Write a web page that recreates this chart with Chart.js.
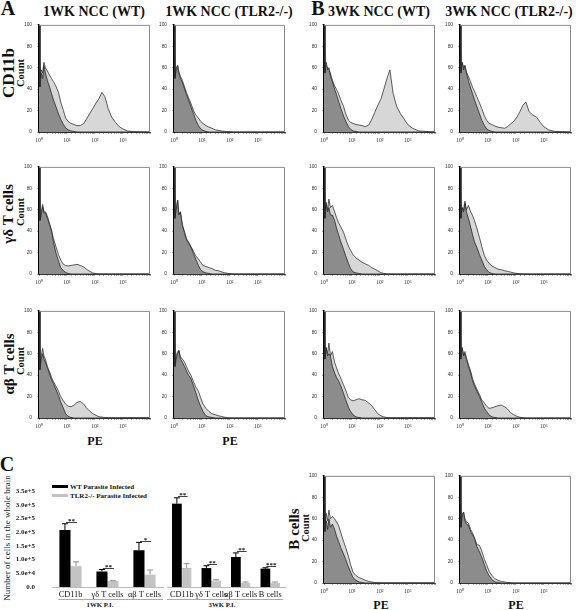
<!DOCTYPE html>
<html><head><meta charset="utf-8">
<script src="https://cdn.jsdelivr.net/npm/chart.js@4/dist/chart.umd.min.js"></script>
<style>
body{margin:0;width:576px;height:610px;background:#fff;position:relative;overflow:hidden;font-family:'Liberation Serif',serif;}
canvas{position:absolute;}
.t{position:absolute;white-space:nowrap;transform:translate(-50%,-50%);font-weight:bold;color:#111;line-height:1;}
.r{transform:translate(-50%,-50%) rotate(-90deg);}
.n{font-weight:normal;}
.sw{position:absolute;}
.gl{position:absolute;height:1px;background:#aaa;}
</style></head><body>
<div class="t" style="left:8px;top:8px;font-size:20px">A</div>
<div class="t" style="left:318px;top:8px;font-size:20px">B</div>
<div class="t" style="left:7px;top:464px;font-size:20px">C</div>
<div class="t" style="left:94px;top:12px;font-size:14px">1WK NCC (WT)</div>
<div class="t" style="left:229px;top:12px;font-size:14px">1WK NCC (TLR2-/-)</div>
<div class="t" style="left:379px;top:12px;font-size:14px">3WK NCC (WT)</div>
<div class="t" style="left:509px;top:12px;font-size:14px">3WK NCC (TLR2-/-)</div>
<div class="t r" style="left:8px;top:73px;font-size:17px">CD11b</div>
<div class="t r" style="left:21px;top:73px;font-size:10.5px">Count</div>
<div class="t r" style="left:8px;top:214px;font-size:15px">γδ T cells</div>
<div class="t r" style="left:21px;top:212px;font-size:10.5px">Count</div>
<div class="t r" style="left:9px;top:364px;font-size:15px">αβ T cells</div>
<div class="t r" style="left:21px;top:361px;font-size:10.5px">Count</div>
<div class="t r" style="left:294px;top:529px;font-size:15px">B cells</div>
<div class="t r" style="left:306px;top:528px;font-size:10.5px">Count</div>
<div class="t" style="left:95px;top:441px;font-size:12px">PE</div>
<div class="t" style="left:230px;top:441px;font-size:12px">PE</div>
<div class="t" style="left:381px;top:605px;font-size:12px">PE</div>
<div class="t" style="left:516px;top:605px;font-size:12px">PE</div>
<div class="t r n" style="left:7px;top:538px;font-size:9px;color:#222">Number of cells in the whole brain</div>
<div class="sw" style="left:52px;top:485px;width:16px;height:3px;background:#000"></div>
<div class="t" style="left:70px;top:487px;font-size:7px;transform:translate(0,-50%)">WT Parasite Infected</div>
<div class="sw" style="left:52px;top:494px;width:16px;height:3px;background:#c3c3c3"></div>
<div class="t" style="left:70px;top:496px;font-size:7px;transform:translate(0,-50%)">TLR2-/- Parasite Infected</div>
<div class="gl" style="left:58px;top:599px;width:105px"></div>
<div class="gl" style="left:167px;top:599px;width:116px"></div>
<div class="t" style="left:100px;top:605px;font-size:6.8px">1WK P.I.</div>
<div class="t" style="left:222px;top:605px;font-size:6.8px">3WK P.I.</div>
<script>
// ---------- Histogram data (PE fluorescence bins, % of max count) ----------
const peBins = [1,1.08,1.2,1.35,1.5,1.7,2,2.4,2.8,3.3, 4,5,6,7.5,9,11,14,18,23,30, 40,50,65,85,110,140,180,230,300,400, 550,750,1000,1500,2500,9000,9400];
const peTickLabels = ['10⁰','10¹','10²','10³'];
const countTicks = [0,20,40,60,80,100];

const cd11b1wWtCtrl = [100,42,55,50,62,55,48,42,36,30, 24,17,12,7,4,2,1,0.5,0,0, 0,0,0,0,0,0,0,0,0,0, 0,0,0,0,0,0,0];
const cd11b1wWtPE   = [100,50,58,55,65,60,57,53,50,47, 43,37,28,20,13,10,8,7,6,6, 8,12,17,22,27,31,37,33,22,14, 9,5,3,1,0.3,0,0];
const cd11b1wKoCtrl = [100,50,58,62,55,50,46,40,35,30, 24,17,11,6,3,1.5,0.5,0,0,0, 0,0,0,0,0,0,0,0,0,0, 0,0,0,0,0,0,0];
const cd11b1wKoPE   = [100,52,60,62,56,52,48,42,37,32, 27,20,16,13,10,8,6,4.5,3.5,2, 1.5,1,0.6,0.4,0.2,0,0,0,0,0, 0,0,0,0,0,0,0];
const cd11b3wWtCtrl = [100,55,65,58,60,52,47,40,35,29, 22,15,10,5,2.5,1,0.5,0,0,0, 0,0,0,0,0,0,0,0,0,0, 0,0,0,0,0,0,0];
const cd11b3wWtPE   = [100,55,62,60,58,55,48,43,40,36, 30,24,17,11,9,8,7,6.5,6,5, 6.5,11,18,25,31,40,50,58,36,24, 17,12,7,3.5,1,0,0];
const cd11b3wKoCtrl = [100,55,65,58,62,55,48,41,36,30, 24,17,11,6,3,1.5,0.5,0,0,0, 0,0,0,0,0,0,0,0,0,0, 0,0,0,0,0,0,0];
const cd11b3wKoPE   = [100,55,65,60,62,56,52,47,42,38, 33,27,22,15,11,8,7,5.5,4.5,4, 3.5,5,7.5,10,14,19,25,28,19,16, 14,9,5,2,0.5,0,0];

const gd1wWtCtrl = [100,50,55,63,57,57,52,46,40,30, 20,12,6,3,1.5,0.5,0,0,0,0, 0,0,0,0,0,0,0,0,0,0, 0,0,0,0,0,0,0];
const gd1wWtPE   = [100,50,57,65,58,58,54,47,41,33, 26,18,13,9,8,7.5,8,8.5,9,8, 6.5,4.5,2.5,1,0.3,0,0,0,0,0, 0,0,0,0,0,0,0];
const gd1wKoCtrl = [100,52,60,69,55,58,45,38,32,29, 25,19,14,8,4,2,1,0.5,0,0, 0,0,0,0,0,0,0,0,0,0, 0,0,0,0,0,0,0];
const gd1wKoPE   = [100,52,60,69,55,58,46,39,33,30, 26,21,17,14,11,8,7,6,5,3.5, 3,2,1.2,0.6,0.2,0,0,0,0,0, 0,0,0,0,0,0,0];
const gd3wWtCtrl = [100,52,65,58,62,55,55,50,43,37, 30,23,17,10,5,2,1,0.5,0,0, 0,0,0,0,0,0,0,0,0,0, 0,0,0,0,0,0,0];
const gd3wWtPE   = [100,55,67,60,70,62,64,58,53,48, 44,39,33,26,22,18,15,13,11,9.5, 8,6,4.5,3,1.2,0.5,0,0,0,0, 0,0,0,0,0,0,3];
const gd3wKoCtrl = [100,52,62,58,66,58,52,44,37,30, 25,18,13,7,4,1.5,0.5,0,0,0, 0,0,0,0,0,0,0,0,0,0, 0,0,0,0,0,0,0];
const gd3wKoPE   = [100,55,62,60,68,60,64,58,55,50, 43,34,26,17,13,10,7.5,6,4.5,4, 3,2.5,1.8,1,0.5,0.2,0,0,0,0, 0,0,0,0,0,0,5];

const ab1wWtCtrl = [100,45,55,60,55,52,47,41,36,32, 27,21,15,9,4,1.5,0.5,0,0,0, 0,0,0,0,0,0,0,0,0,0, 0,0,0,0,0,0,0];
const ab1wWtPE   = [100,48,58,65,58,55,48,43,38,34, 30,25,20,16,13,11,10.5,12,14.5,15.5, 13,9.5,6.5,4,2.5,1.2,0.8,0.5,0.3,0.3, 0.3,0.3,0.3,0.3,0.3,0.3,2];
const ab1wKoCtrl = [100,48,55,60,63,55,52,48,44,40, 37,30,24,16,11,6,2,1,0.5,0, 0,0,0,0,0,0,0,0,0,0, 0,0,0,0,0,0,0];
const ab1wKoPE   = [100,50,58,62,63,57,55,52,48,44, 40,34,29,25,19,13,9,6,4,3, 2,1.5,0.8,0.3,0,0,0,0,0,0, 0,0,0,0,0,0,0];
const ab3wWtCtrl = [100,55,65,58,60,58,48,42,38,35, 30,23,17,10,6,3,1,0.5,0,0, 0,0,0,0,0,0,0,0,0,0, 0,0,0,0,0,0,0];
const ab3wWtPE   = [100,55,66,60,70,58,62,52,47,42, 37,31,26,19,17,16,17,18,17,16.5, 14,12,8,4,2,1,0.5,0.3,0.3,0.3, 0.3,0.3,0.3,0.3,0.3,0.3,2];
const ab3wKoCtrl = [100,55,65,58,60,55,48,42,35,30, 25,20,15,9,6,3,1,0.5,0,0, 0,0,0,0,0,0,0,0,0,0, 0,0,0,0,0,0,0];
const ab3wKoPE   = [100,55,66,58,62,56,50,44,37,32, 27,22,17,14,11,9,9.5,10.5,11.5,12, 10.5,8.5,5,3,1.5,0.7,0.3,0,0,0, 0,0,0,0,0,0,2];

const b3wWtCtrl = [100,48,58,50,60,52,55,50,44,39, 33,27,22,15,10,5,2.5,1,0.5,0, 0,0,0,0,0,0,0,0,0,0, 0,0,0,0,0,0,0];
const b3wWtPE   = [100,55,65,58,68,60,62,60,57,54, 47,39,33,25,17,10,7,5,4,2.5, 1.5,1,0.5,0.3,0.2,0.2,0.2,0.2,0.2,0.2, 0.2,0.2,0.2,0.2,0.2,0.2,1.5];
const b3wKoCtrl = [100,52,62,66,58,55,54,48,45,42, 34,29,24,17,11,7,3,1,0.5,0, 0,0,0,0,0,0,0,0,0,0, 0,0,0,0,0,0,0];
const b3wKoPE   = [100,55,65,66,60,57,56,50,47,42, 36,35,30,22,17,11,7,4,2.5,1.5, 1,0.5,0.3,0,0,0,0,0,0,0, 0,0,0,0,0,0,0];

// ---------- Bar chart data (panel C) ----------
const cats1wk = ['CD11b','γδ T cells','αβ T cells'];
const cats3wk = ['CD11b','γδ T cells','αβ T cells','B cells'];
const wt1wk = [208000, 57000, 134000];
const wt1wkErr = [23000, 7000, 29000];
const ko1wk = [77000, 22000, 46000];
const ko1wkErr = [15000, 1000, 16000];
const wt3wk = [286000, 65000, 103000, 63000];
const wt3wkErr = [20000, 8000, 14000, 3000];
const ko3wk = [65000, 22000, 14000, 14000];
const ko3wkErr = [15000, 3000, 3000, 3000];
const sig1wk = ['**','**','*'];
const sig3wk = ['**','**','**','***'];
const barTickLabels = ['0.0','5.0e+4','1.0e+5','1.5e+5','2.0e+5','2.5e+5','3.0e+5','3.5e+5'];

// ---------- layout ----------
const colLeft = [39, 174, 324, 460];
const rowTop = [21, 163, 307, 472];
const plotW = 111, plotH = 111;
const DARK = '#8c8c8c', LIGHT = '#d7d7d7';
const SANS = "'Liberation Sans', sans-serif";
const SERIF = "'Liberation Serif', serif";

const panels = [
  [0,0,cd11b1wWtCtrl,cd11b1wWtPE],[0,1,cd11b1wKoCtrl,cd11b1wKoPE],[0,2,cd11b3wWtCtrl,cd11b3wWtPE],[0,3,cd11b3wKoCtrl,cd11b3wKoPE],
  [1,0,gd1wWtCtrl,gd1wWtPE],[1,1,gd1wKoCtrl,gd1wKoPE],[1,2,gd3wWtCtrl,gd3wWtPE],[1,3,gd3wKoCtrl,gd3wKoPE],
  [2,0,ab1wWtCtrl,ab1wWtPE],[2,1,ab1wKoCtrl,ab1wKoPE],[2,2,ab3wWtCtrl,ab3wWtPE],[2,3,ab3wKoCtrl,ab3wKoPE],
  [3,2,b3wWtCtrl,b3wWtPE],[3,3,b3wKoCtrl,b3wKoPE]
];

const framePlugin = {
  id:'frame',
  afterDraw(chart){
    const {ctx, chartArea:a} = chart;
    ctx.save();
    ctx.strokeStyle = '#8a8a8a'; ctx.lineWidth = 1;
    ctx.beginPath();
    ctx.moveTo(a.left, a.top+0.5); ctx.lineTo(a.right-0.5, a.top+0.5); ctx.lineTo(a.right-0.5, a.bottom);
    ctx.stroke();
    ctx.restore();
  }
};

function makeCanvas(left, top, w, h){
  const c = document.createElement('canvas');
  c.width = w; c.height = h;
  c.style.left = left+'px'; c.style.top = top+'px';
  c.style.width = w+'px'; c.style.height = h+'px';
  document.body.appendChild(c);
  return c;
}

panels.forEach(([r,col,ctrl,pe])=>{
  const L = colLeft[col], T = rowTop[r];
  const c = makeCanvas(L-32, T-4, plotW+35, plotH+18);
  new Chart(c, {
    type:'line',
    data:{datasets:[
      {data: peBins.map((x,i)=>({x, y: ctrl[i]})), fill:'origin', backgroundColor:DARK, borderColor:'#262626', borderWidth:0.8, pointRadius:0, tension:0},
      {data: peBins.map((x,i)=>({x, y: pe[i]})), fill:'origin', backgroundColor:LIGHT, borderColor:'#333', borderWidth:0.8, pointRadius:0, tension:0}
    ]},
    options:{
      responsive:false, animation:false, devicePixelRatio:1,
      layout:{padding:{top:4, right:3, left:0, bottom:0}},
      plugins:{legend:{display:false}, tooltip:{enabled:false}},
      scales:{
        x:{type:'logarithmic', min:1, max:9500,
           afterFit(s){ s.height = 14; },
           grid:{display:true, drawOnChartArea:false, drawTicks:true, tickLength:2, color:'#555', lineWidth:0.5},
           border:{display:true, color:'#333', width:1},
           ticks:{autoSkip:false, maxRotation:0, minRotation:0, padding:3, color:'#333', font:{size:5.8, family:SERIF},
             callback(v){ const e = Math.log10(v), k = Math.round(e); return (Math.abs(e-k)<1e-6 && k>=0 && k<peTickLabels.length) ? peTickLabels[k] : ''; }}},
        y:{min:0, max:100,
           afterFit(s){ s.width = 32; },
           afterBuildTicks(s){ s.ticks = countTicks.map(v=>({value:v})); },
           grid:{display:true, drawOnChartArea:false, tickLength:2, color:'#555', lineWidth:0.5},
           border:{display:true, color:'#000', width:1.5},
           ticks:{padding:5, color:'#333', font:{size:4.8, family:SANS}, callback:v=>String(v)}}
      }
    },
    plugins:[framePlugin]
  });
});

// ---------- bar charts ----------
function errSigPlugin(wtErr, koErr, sig){
  return {
    id:'errsig',
    afterDatasetsDraw(chart){
      const {ctx} = chart, y = chart.scales.y;
      const errs = [wtErr, koErr], cols = ['#000','#8f8f8f'];
      ctx.save();
      chart.data.datasets.forEach((ds, di)=>{
        const meta = chart.getDatasetMeta(di);
        meta.data.forEach((el, j)=>{
          const top = y.getPixelForValue(ds.data[j] + errs[di][j]);
          ctx.strokeStyle = cols[di]; ctx.lineWidth = 1;
          ctx.beginPath();
          ctx.moveTo(el.x, el.y); ctx.lineTo(el.x, top);
          ctx.moveTo(el.x-3, top); ctx.lineTo(el.x+3, top);
          ctx.stroke();
        });
      });
      const m0 = chart.getDatasetMeta(0), m1 = chart.getDatasetMeta(1);
      const wt = chart.data.datasets[0].data;
      ctx.fillStyle = '#111'; ctx.strokeStyle = '#111'; ctx.lineWidth = 0.8;
      ctx.font = 'bold 7px ' + SERIF; ctx.textAlign = 'center'; ctx.textBaseline = 'bottom';
      m0.data.forEach((el, j)=>{
        const ly = Math.round(y.getPixelForValue(wt[j] + wtErr[j]) - 1.5) + 0.5;
        const x0 = el.x + 1, x1 = m1.data[j].x + 1;
        ctx.beginPath(); ctx.moveTo(x0, ly); ctx.lineTo(x1, ly); ctx.stroke();
        ctx.fillText(sig[j], (x0+x1)/2, ly + 2.5);
      });
      ctx.restore();
    }
  };
}

function barChart(canvas, cats, wt, ko, catPct, showY, padL, padR, wtErr, koErr, sig){
  return new Chart(canvas, {
    type:'bar',
    data:{labels:cats, datasets:[
      {label:'WT Parasite Infected', data:wt, backgroundColor:'#000', borderWidth:0},
      {label:'TLR2-/- Parasite Infected', data:ko, backgroundColor:'#c3c3c3', borderColor:'#a5a5a5', borderWidth:0.6}
    ]},
    options:{
      responsive:false, animation:false, devicePixelRatio:1,
      layout:{padding:{top:15, left:padL, right:padR, bottom:0}},
      datasets:{bar:{barPercentage:1, categoryPercentage:catPct}},
      plugins:{legend:{display:false}, tooltip:{enabled:false}},
      scales:{
        x:{afterFit(s){ s.height = 23; },
           grid:{display:false, drawTicks:false, tickLength:0}, border:{display:true, color:'#aaa', width:0.8},
           ticks:{autoSkip:false, maxRotation:0, minRotation:0, padding:3, color:'#111', font:{size:8.3, family:SERIF}}},
        y:{display:showY, min:0, max:350000,
           afterFit(s){ s.width = showY ? 52 : 0; },
           grid:{display:false, drawTicks:false, tickLength:0}, border:{display:false},
           ticks:{stepSize:50000, padding:17, color:'#222', font:{size:7, weight:'bold', family:SERIF},
             callback:v=>barTickLabels[Math.round(v/50000)]}}
      }
    },
    plugins:[errSigPlugin(wtErr, koErr, sig)]
  });
}

barChart(makeCanvas(0, 470, 170, 140), cats1wk, wt1wk, ko1wk, 0.6, true, 0, 7, wt1wkErr, ko1wkErr, sig1wk);
barChart(makeCanvas(162, 470, 128, 140), cats3wk, wt3wk, ko3wk, 0.66, false, 5, 5, wt3wkErr, ko3wkErr, sig3wk);
</script>
</body></html>
